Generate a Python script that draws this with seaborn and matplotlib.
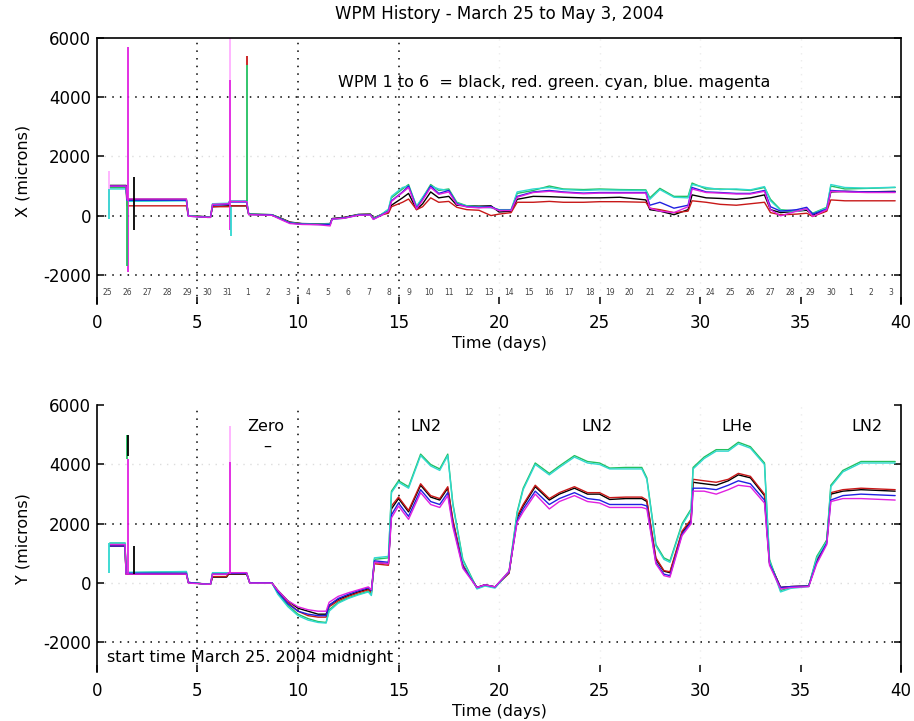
import numpy as np
import pandas as pd
import seaborn as sns
import matplotlib.pyplot as plt

WPM_NAMES = ["WPM1", "WPM2", "WPM3", "WPM4", "WPM5", "WPM6"]
WPM_COLORS = ["#000000", "#c81818", "#22c060", "#30d8d0", "#2020e0", "#e020e0"]

# ---- X panel (top) ----
tx = [0.65, 1.45, 1.5, 4.45, 4.55, 5.5, 5.65, 5.75, 6.55, 6.6, 7.45, 7.55, 8.7, 9.2,
      9.6, 10.2, 11.0, 11.6, 11.7, 12.3, 13.0, 13.6, 13.75, 14.1, 14.5, 14.65, 15.2,
      15.5, 15.9, 16.2, 16.6, 17.0, 17.5, 17.9, 18.4, 19.0, 19.6, 20.0, 20.6, 20.9,
      21.7, 22.5, 23.2, 24.2, 25.0, 26.0, 27.3, 27.5, 28.0, 28.7, 29.4, 29.6, 30.3,
      31.0, 31.8, 32.5, 33.2, 33.5, 34.0, 34.8, 35.3, 35.6, 36.3, 36.5, 37.2, 38.3, 39.7]
x_black = [1020, 1020, 550, 550, 0, -40, -40, 300, 330, 330, 330, 50, 30, -100,
           -220, -270, -280, -270, -100, -60, 40, 50, -80, 20, 120, 350, 600,
           750, 200, 400, 800, 600, 650, 350, 330, 320, 330, 120, 150, 550,
           650, 640, 620, 600, 600, 620, 530, 200, 150, 30, 200, 700, 600,
           580, 550, 600, 700, 200, 100, 150, 180, 20, 200, 800, 820, 800, 820]
x_red = [950, 950, 330, 330, -10, -50, -50, 300, 300, 330, 330, 40, 20, -110,
         -230, -280, -290, -280, -110, -70, 30, 40, -90, 10, 80, 300, 450,
         560, 200, 300, 600, 450, 480, 280, 200, 180, 0, 50, 100, 450,
         450, 480, 450, 450, 470, 470, 450, 250, 200, 100, 150, 500, 450,
         380, 350, 400, 450, 100, 25, 50, 80, -30, 150, 530, 500, 500, 500]
x_green = [950, 950, 500, 520, 0, -50, -50, 380, 400, 480, 480, 50, 30, -120,
           -240, -280, -290, -280, -120, -80, 30, 40, -100, 20, 200, 600, 900,
           1050, 300, 600, 1050, 850, 900, 450, 330, 300, 280, 200, 200, 750,
           850, 1000, 900, 880, 900, 880, 870, 600, 920, 650, 650, 1100, 900,
           900, 880, 850, 950, 550, 200, 150, 230, 80, 280, 1000, 900, 920, 950]
x_cyan = [900, 900, 480, 500, -10, -60, -60, 400, 420, 500, 500, 40, 20, -130,
          -250, -290, -300, -290, -130, -90, 20, 30, -110, 10, 220, 650, 950,
          1000, 320, 620, 1000, 900, 850, 420, 320, 290, 260, 190, 190, 800,
          900, 950, 880, 850, 870, 860, 850, 550, 880, 620, 600, 1050, 950,
          880, 900, 870, 980, 500, 180, 140, 220, 60, 260, 1050, 950, 930, 960]
x_blue = [1000, 1000, 520, 520, -20, -60, -60, 350, 380, 460, 460, 40, 20, -130,
          -250, -290, -300, -300, -110, -80, 20, 30, -120, 0, 150, 500, 800,
          1000, 250, 550, 1000, 750, 850, 400, 300, 280, 300, 180, 180, 650,
          800, 850, 800, 760, 780, 780, 780, 350, 450, 250, 350, 950, 800,
          780, 750, 750, 850, 300, 150, 200, 280, 50, 220, 850, 820, 800, 800]
x_magenta = [1000, 1000, 560, 560, -20, -60, -60, 380, 400, 480, 480, 30, 10, -150,
             -270, -300, -310, -350, -120, -90, 10, 20, -130, -10, 140, 480, 780,
             950, 230, 520, 950, 720, 800, 380, 290, 260, 280, 170, 170, 620,
             780, 820, 780, 740, 760, 760, 760, 250, 150, 100, 300, 900, 780,
             760, 730, 730, 820, 200, -10, 150, 230, -30, 200, 820, 800, 780, 780]

# spikes: time, low, high, colour index (6 = light pink)
x_spike_t = [0.6, 0.62, 1.55, 1.52, 1.85, 6.6, 6.6, 6.65, 7.45, 7.45]
x_spike_lo = [0, -100, -1900, -1700, -500, -500, 4600, -700, 500, 5100]
x_spike_hi = [1500, 900, 5700, 500, 1300, 4600, 6000, 300, 5100, 5400]
x_spike_c = [6, 3, 5, 2, 0, 5, 6, 3, 2, 1]

# ---- Y panel (bottom) ----
ty = [0.65, 1.4, 1.45, 4.45, 4.55, 5.5, 5.65, 5.75, 6.45, 6.55, 7.45, 7.6, 8.7, 9.0,
      9.5, 10.0, 10.5, 11.0, 11.4, 11.55, 12.0, 12.5, 13.0, 13.5, 13.65, 13.8, 14.5,
      14.65, 15.0, 15.5, 16.1, 16.6, 17.05, 17.45, 17.7, 18.2, 18.9, 19.3, 19.8, 20.5,
      20.9, 21.2, 21.8, 22.5, 23.0, 23.75, 24.4, 25.0, 25.5, 26.3, 27.1, 27.35, 27.8,
      28.2, 28.5, 29.1, 29.55, 29.65, 30.2, 30.8, 31.4, 31.9, 32.5, 33.2, 33.45, 34.0,
      34.5, 35.4, 35.8, 36.3, 36.5, 37.1, 38.0, 39.7]
y_black = [1250, 1250, 300, 300, 20, -40, -40, 200, 200, 300, 300, 10, 10, -250,
           -600, -850, -950, -1050, -1050, -750, -550, -420, -300, -200, -300, 700, 650,
           2500, 2850, 2400, 3300, 2900, 2800, 3200, 2100, 600, -150, -60, -130, 350,
           2200, 2600, 3250, 2800, 3000, 3200, 3000, 3000, 2820, 2850, 2850, 2750, 800,
           400, 350, 1700, 2100, 3400, 3350, 3300, 3450, 3650, 3550, 2950, 700, -150,
           -120, -100, 750, 1400, 3000, 3100, 3150, 3100]
y_red = [1250, 1250, 320, 320, 20, -40, -40, 220, 220, 320, 320, 10, 10, -280,
         -650, -950, -1100, -1150, -1150, -800, -600, -450, -330, -230, -330, 650, 600,
         2600, 2900, 2450, 3350, 2950, 2850, 3250, 2150, 600, -150, -60, -130, 330,
         2250, 2650, 3300, 2850, 3050, 3250, 3050, 3050, 2880, 2900, 2900, 2800, 850,
         420, 380, 1750, 2150, 3500, 3450, 3400, 3500, 3700, 3600, 3000, 700, -150,
         -120, -100, 800, 1450, 3050, 3150, 3200, 3150]
y_green = [1350, 1350, 350, 380, 20, -40, -40, 330, 330, 330, 330, 10, 10, -350,
           -750, -1050, -1200, -1300, -1330, -900, -650, -500, -380, -280, -400, 800, 850,
           3100, 3450, 3250, 4350, 4000, 3850, 4350, 2700, 800, -180, -80, -150, 400,
           2400, 3200, 4050, 3700, 3950, 4300, 4100, 4050, 3880, 3900, 3900, 3550, 1300,
           850, 750, 2000, 2500, 3900, 4250, 4500, 4500, 4750, 4600, 4050, 800, -250,
           -150, -100, 900, 1450, 3300, 3800, 4100, 4100]
y_cyan = [1350, 1350, 360, 390, 20, -40, -40, 350, 350, 340, 340, 10, 10, -380,
          -800, -1100, -1250, -1330, -1350, -950, -680, -520, -400, -300, -420, 850, 900,
          3050, 3400, 3200, 4300, 3950, 3800, 4300, 2650, 750, -200, -100, -170, 380,
          2350, 3150, 4000, 3650, 3900, 4250, 4050, 4000, 3850, 3850, 3850, 3500, 1250,
          800, 700, 1950, 2450, 3850, 4200, 4450, 4450, 4700, 4550, 4000, 750, -300,
          -180, -120, 850, 1400, 3250, 3750, 4050, 4050]
y_blue = [1250, 1250, 330, 330, 20, -40, -40, 300, 300, 330, 330, 10, 10, -300,
          -700, -950, -1050, -1100, -1100, -750, -520, -380, -260, -160, -250, 750, 700,
          2300, 2700, 2250, 3150, 2750, 2650, 3050, 2000, 550, -150, -60, -130, 380,
          2100, 2500, 3100, 2650, 2850, 3050, 2850, 2800, 2650, 2650, 2650, 2600, 700,
          300, 250, 1650, 2050, 3200, 3200, 3150, 3300, 3450, 3350, 2800, 650, -150,
          -120, -100, 700, 1350, 2800, 2950, 3000, 2950]
y_magenta = [1300, 1300, 300, 300, 0, -40, -40, 300, 300, 350, 350, 0, 0, -250,
             -600, -800, -900, -950, -950, -650, -450, -330, -230, -130, -230, 700, 650,
             2200, 2600, 2150, 3050, 2650, 2550, 2950, 1900, 500, -150, -60, -130, 400,
             2050, 2400, 3000, 2500, 2750, 2950, 2750, 2700, 2550, 2550, 2550, 2500, 650,
             250, 200, 1600, 2000, 3100, 3100, 3000, 3150, 3300, 3250, 2700, 600, -200,
             -150, -120, 650, 1300, 2750, 2850, 2850, 2800]

y_spike_t = [0.62, 1.52, 1.55, 1.55, 1.85, 6.6, 6.6]
y_spike_lo = [350, 4200, 300, 4300, 300, 300, 4100]
y_spike_hi = [1350, 5000, 4200, 5000, 1250, 4100, 5300]
y_spike_c = [3, 2, 5, 0, 0, 5, 6]

# annotations
day_labels = ["25", "26", "27", "28", "29", "30", "31"] + [str(d) for d in range(1, 31)] + ["1", "2", "3"]
phase_labels = ["Zero", "LN2", "LN2", "LHe", "LN2"]
phase_x = [8.4, 16.35, 24.85, 31.8, 38.3]

SPIKE_COLORS = WPM_COLORS + ["#ffb0ff"]


def to_long(t, series):
    rows = []
    for name, vals in zip(WPM_NAMES, series):
        rows.append(pd.DataFrame({"t": t, "v": vals, "wpm": name}))
    return pd.concat(rows, ignore_index=True)


def style_axes(ax, dark_x, dark_y, top_spine):
    ax.set_xlim(0, 40)
    ax.set_ylim(-3000, 6000)
    ax.set_xticks(range(0, 41, 5))
    ax.set_yticks([-2000, 0, 2000, 4000, 6000])
    for xv in range(5, 40, 5):
        if xv in dark_x:
            ax.axvline(xv, color="black", lw=1.1, ls=(0, (1, 4)), zorder=0)
        else:
            ax.axvline(xv, color="#ececec", lw=1.0, ls=(0, (1, 4)), zorder=0)
    for yv in [-2000, 0, 2000, 4000]:
        if yv in dark_y:
            ax.axhline(yv, color="black", lw=1.1, ls=(0, (1, 4)), zorder=0)
        else:
            ax.axhline(yv, color="#dddddd", lw=1.0, ls=(0, (1, 4)), zorder=0)
    ax.spines["bottom"].set_visible(False)
    ax.spines["top"].set_visible(top_spine)
    for s in ["left", "right", "top"]:
        ax.spines[s].set_linewidth(1.2)
        ax.spines[s].set_color("black")
    ax.tick_params(direction="in", length=5, width=1.1, labelsize=12, colors="black",
                   right=True, left=True, bottom=True, top=False)
    ax.tick_params(axis="x", pad=7)
    ax.tick_params(axis="y", pad=4)
    ax.set_xlabel("Time (days)", fontsize=11.5, labelpad=3)


sns.set_theme(style="white")
plt.rcParams["font.family"] = ["DejaVu Sans"]
plt.rcParams["axes.unicode_minus"] = False
plt.rcParams["text.color"] = "black"
plt.rcParams["axes.labelcolor"] = "black"

fig = plt.figure(figsize=(9.14, 7.21), dpi=100)
ax1 = fig.add_axes([0.106, 0.578, 0.880, 0.369])
ax2 = fig.add_axes([0.106, 0.068, 0.880, 0.370])
palette = dict(zip(WPM_NAMES, WPM_COLORS))

dfx = to_long(tx, [x_black, x_red, x_green, x_cyan, x_blue, x_magenta])
sns.lineplot(data=dfx, x="t", y="v", hue="wpm", palette=palette, estimator=None,
             sort=False, legend=False, lw=1.0, ax=ax1)
ax1.vlines(x_spike_t, x_spike_lo, x_spike_hi, colors=[SPIKE_COLORS[c] for c in x_spike_c], lw=1.3)

dfy = to_long(ty, [y_black, y_red, y_green, y_cyan, y_blue, y_magenta])
sns.lineplot(data=dfy, x="t", y="v", hue="wpm", palette=palette, estimator=None,
             sort=False, legend=False, lw=1.0, ax=ax2)
ax2.vlines(y_spike_t, y_spike_lo, y_spike_hi, colors=[SPIKE_COLORS[c] for c in y_spike_c], lw=1.3)

style_axes(ax1, dark_x=[5, 10, 15], dark_y=[-2000, 0, 4000], top_spine=True)
style_axes(ax2, dark_x=[5, 10, 15], dark_y=[-2000, 2000], top_spine=False)

ax1.set_ylabel("X (microns)", fontsize=11.5, labelpad=9)
ax2.set_ylabel("Y (microns)", fontsize=11.5, labelpad=9)
ax1.set_title("WPM History - March 25 to May 3, 2004", fontsize=12, pad=14, color="black")

ax1.text(12.0, 4500, "WPM 1 to 6  = black, red. green. cyan, blue. magenta",
         fontsize=11.5, va="center", ha="left")
for i, lab in enumerate(day_labels):
    ax1.text(i + 0.5, -2610, lab, fontsize=5.5, color="#444444", ha="center", va="center")

for lab, xp in zip(phase_labels, phase_x):
    ax2.text(xp, 5290, lab, fontsize=11.5, ha="center", va="center")
ax2.text(8.45, 4600, "\u2013", fontsize=11.5, ha="center", va="center")
ax2.text(0.5, -2510, "start time March 25. 2004 midnight", fontsize=11.5,
         ha="left", va="center")

fig.savefig("out.png", dpi=100)
